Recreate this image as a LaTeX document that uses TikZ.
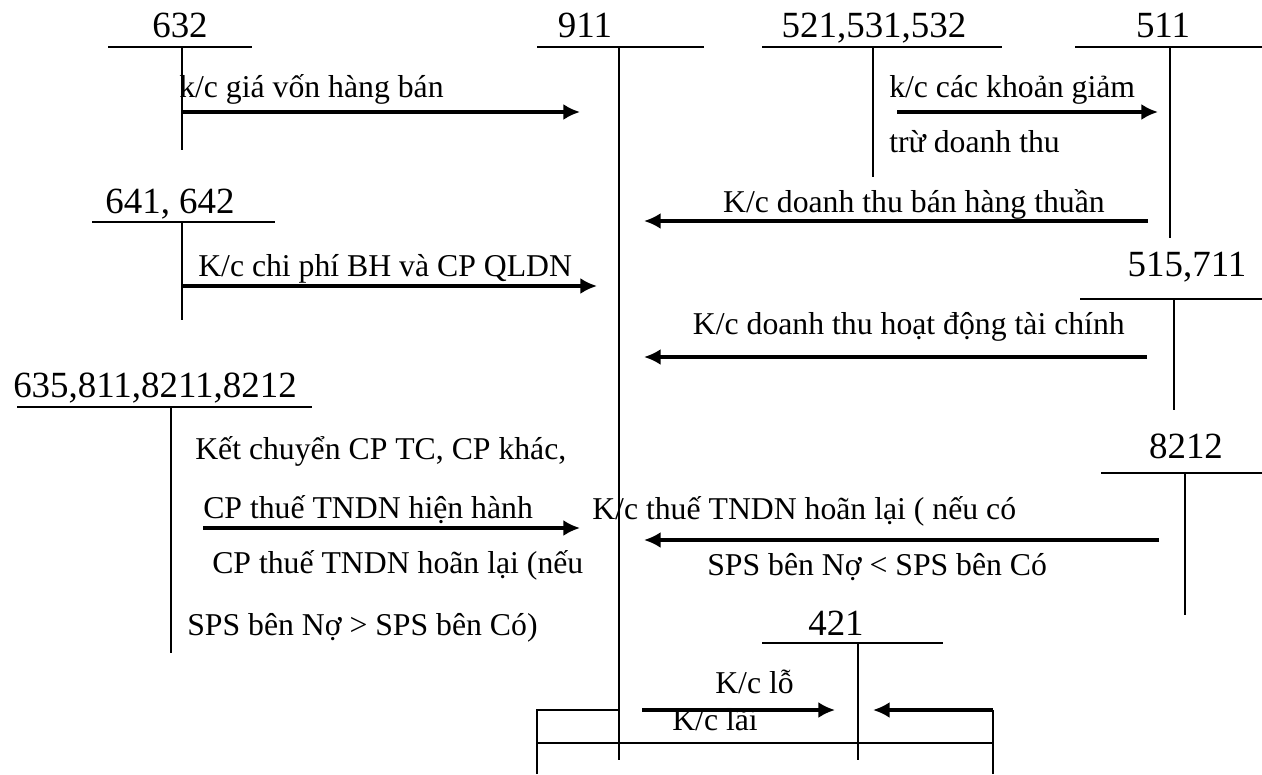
\documentclass[tikz,border=0pt]{standalone}
\usepackage{fontspec}
\setmainfont{Liberation Serif}
\usetikzlibrary{arrows.meta}

\tikzset{
  acct/.style={font=\fontsize{27.7}{32}\selectfont, inner sep=0pt, anchor=base},
  txt/.style={font=\fontsize{23.8}{28}\selectfont, inner sep=0pt, anchor=base west},
  tline/.style={line width=1.3pt},
  flow/.style={->, line width=2.3pt}
}

\begin{document}
\begin{tikzpicture}[x=0.75pt, y=-0.75pt, >={Latex[length=12.5pt,width=12pt]}]

\useasboundingbox (0,0) rectangle (1262,774);

% Parameters
\def\ytop{47}

% Account 632
\node[acct] (a632) at (180,38) {632};
\draw[tline] (108,\ytop) -- (252,\ytop);
\draw[tline] (182,\ytop) -- (182,150);

% Account 911
\node[acct] (a911) at (585,38) {911};
\draw[tline] (537,\ytop) -- (704,\ytop);
\draw[tline] (619,\ytop) -- (619,760);

% Account 521,531,532
\node[acct] (a521) at (874,38) {521,531,532};
\draw[tline] (762,\ytop) -- (1002,\ytop);
\draw[tline] (873,\ytop) -- (873,177);

% Account 511
\node[acct] (a511) at (1163,38) {511};
\draw[tline] (1075,\ytop) -- (1262,\ytop);
\draw[tline] (1170,\ytop) -- (1170,238);

% Account 641, 642
\node[acct] (a641) at (170,213) {641, 642};
\draw[tline] (92,222) -- (275,222);
\draw[tline] (182,222) -- (182,320);

% Account 515,711
\node[acct] (a515) at (1187,276) {515,711};
\draw[tline] (1080,299) -- (1262,299);
\draw[tline] (1174,299) -- (1174,410);

% Account 635,811,8211,8212
\node[acct] (a635) at (155,397) {635,811,8211,8212};
\draw[tline] (17,407) -- (312,407);
\draw[tline] (171,407) -- (171,653);

% Account 8212
\node[acct] (a8212) at (1186,458) {8212};
\draw[tline] (1101,473) -- (1262,473);
\draw[tline] (1185,473) -- (1185,615);

% Account 421
\node[acct] (a421) at (836,635) {421};
\draw[tline] (762,643) -- (943,643);
\draw[tline] (858,643) -- (858,760);

% Result box
\draw[tline] (537,774) -- (537,710) -- (619,710);
\draw[tline] (537,743) -- (993,743);
\draw[tline] (993,774) -- (993,710);

% Arrow ends
\coordinate (gv1) at (182,112);   \coordinate (gv2) at (580,112);
\coordinate (gt1) at (897,112);   \coordinate (gt2) at (1158,112);
\coordinate (dt1) at (1148,221);  \coordinate (dt2) at (644,221);
\coordinate (bh1) at (182,286);   \coordinate (bh2) at (597,286);
\coordinate (tc1) at (1147,357);  \coordinate (tc2) at (644,357);
\coordinate (cp1) at (203,528);   \coordinate (cp2) at (580,528);
\coordinate (hl1) at (1159,540);  \coordinate (hl2) at (644,540);
\coordinate (lo1) at (642,710);   \coordinate (lo2) at (835,710);
\coordinate (la1) at (993,710);   \coordinate (la2) at (873,710);

% Transfers
\draw[flow] (gv1) -- (gv2);
\draw[flow] (gt1) -- (gt2);
\draw[flow] (dt1) -- (dt2);
\draw[flow] (bh1) -- (bh2);
\draw[flow] (tc1) -- (tc2);
\draw[flow] (cp1) -- (cp2);
\draw[flow] (hl1) -- (hl2);
\draw[flow] (lo1) -- (lo2);
\draw[flow] (la1) -- (la2);

% Labels
\node[txt] (t1) at (179,97) {k/c giá vốn hàng bán};
\node[txt] (t2) at (889,97) {k/c các khoản giảm};
\node[txt] (t3) at (889,152) {trừ doanh thu};
\node[txt, anchor=base east] (t4) at (1105,212) {K/c doanh thu bán hàng thuần};
\node[txt] (t5) at (198,276) {K/c chi phí BH và CP QLDN};
\node[txt, anchor=base east] (t6) at (1125,334) {K/c doanh thu hoạt động tài chính};
\node[txt] (t7) at (195,459) {Kết chuyển CP TC, CP khác,};
\node[txt] (t8) at (203,518) {CP thuế TNDN hiện hành};
\node[txt] (t9) at (212,573) {CP thuế TNDN hoãn lại (nếu};
\node[txt] (t10) at (187,635) {SPS bên Nợ > SPS bên Có)};
\node[txt] (t11) at (592,519) {K/c thuế TNDN hoãn lại ( nếu có};
\node[txt] (t12) at (707,575) {SPS bên Nợ < SPS bên Có};
\node[txt] (t13) at (715,693) {K/c lỗ};
\node[txt] (t14) at (672,730) {K/c lãi};

\end{tikzpicture}
\end{document}
